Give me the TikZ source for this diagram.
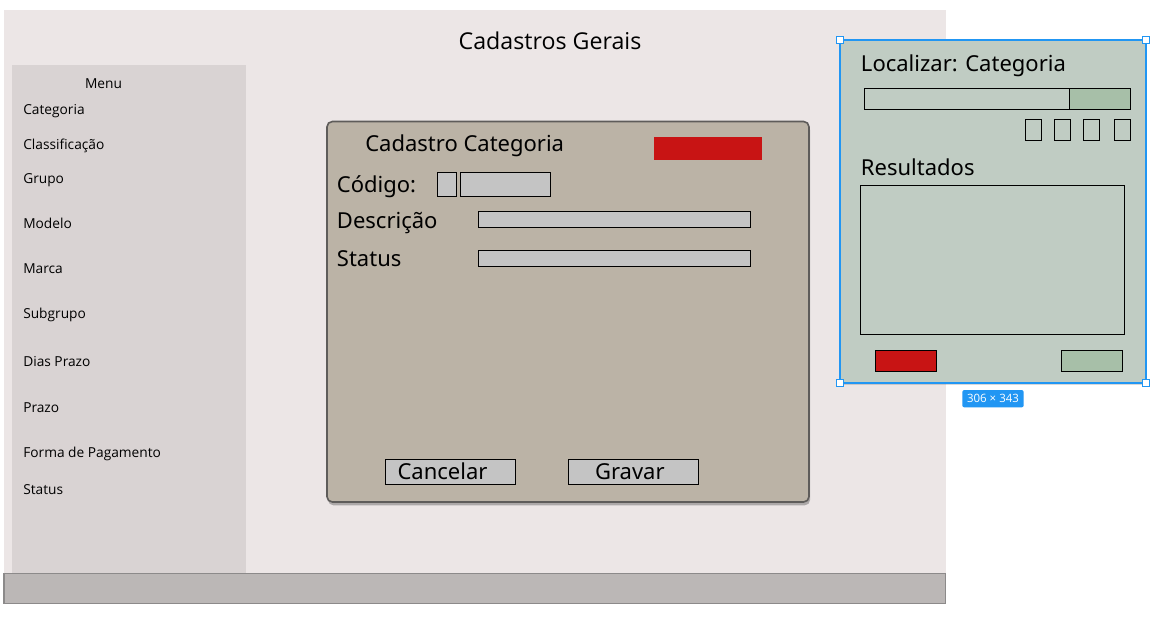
\documentclass[tikz,border=0pt]{standalone}
\usepackage{fontspec}
\setmainfont{Open Sans}
\newfontfamily\dlgfont{Noto Sans}
\usetikzlibrary{shadows}
\definecolor{bgpink}{HTML}{ECE6E6}
\definecolor{menugray}{HTML}{D9D3D3}
\definecolor{barfill}{HTML}{BBB7B6}
\definecolor{barline}{HTML}{8C8A8A}
\definecolor{dlgfill}{HTML}{BBB3A6}
\definecolor{dlgline}{HTML}{5E5C5A}
\definecolor{fieldgray}{HTML}{C4C4C4}
\definecolor{redbtn}{HTML}{C81414}
\definecolor{panelfill}{HTML}{C0CCC3}
\definecolor{greenbtn}{HTML}{A7BFA8}
\definecolor{selblue}{HTML}{2196F3}
\tikzset{
  menuitem/.style={anchor=base west, inner sep=0pt, font=\fontsize{10.3pt}{12pt}\selectfont},
  dlgtext/.style={anchor=base west, inner sep=0pt, font=\dlgfont\fontsize{16.5pt}{19pt}\selectfont},
  field/.style={draw=black, line width=0.8pt, fill=fieldgray},
  pfield/.style={draw=black, line width=0.8pt},
  handle/.style={draw=selblue, fill=white, line width=0.7pt, minimum size=5pt, inner sep=0pt, rectangle}
}
\begin{document}
\begin{tikzpicture}[x=0.75pt, y=-0.75pt]
\useasboundingbox (0,0) rectangle (1171,622);
\fill[white] (0,0) rectangle (1171,622);
% main frame
\fill[bgpink] (4,10) rectangle (946,573);
\draw[barline, line width=1.2pt, fill=barfill] (4,573.5) rectangle (945.5,603.5);
\node[anchor=base, inner sep=0pt, font=\fontsize{17.4pt}{20pt}\selectfont] (title) at (550,49.3) {Cadastros Gerais};
% menu
\fill[menugray] (12,65) rectangle (246,573);
\node[menuitem, anchor=base] (menu) at (103.5,88.5) {Menu};
\node[menuitem] (m1) at (23,114) {Categoria};
\node[menuitem] (m2) at (23,149) {Classificação};
\node[menuitem] (m3) at (23,183) {Grupo};
\node[menuitem] (m4) at (23,228) {Modelo};
\node[menuitem] (m5) at (23,273.3) {Marca};
\node[menuitem] (m6) at (23,318.7) {Subgrupo};
\node[menuitem] (m7) at (23,366.7) {Dias Prazo};
\node[menuitem] (m8) at (23,412) {Prazo};
\node[menuitem] (m9) at (23,457.3) {Forma de Pagamento};
\node[menuitem] (m10) at (23,494) {Status};
% dialog
\draw[dlgline, line width=1.2pt, fill=dlgfill, rounded corners=4pt,
  drop shadow={shadow xshift=0.8pt, shadow yshift=-2.5pt, opacity=0.4, fill=black!70}]
  (327,121.5) rectangle (809,502);
\node[dlgtext] (dtitle) at (365,151.7) {Cadastro Categoria};
\fill[redbtn] (654,137) rectangle (762,159.7);
\node[dlgtext] (lcod) at (336.7,192.7) {Código:};
\draw[field] (437.3,172.3) rectangle (456.7,196.3);
\draw[field] (460.3,172.3) rectangle (550.7,196.3);
\node[dlgtext] (ldesc) at (336.7,228.3) {Descrição};
\draw[field] (478.3,211.3) rectangle (750.7,227.3);
\node[dlgtext] (lstat) at (336.7,266.7) {Status};
\draw[field] (478.3,250.3) rectangle (750.7,266.3);
\draw[field] (385.3,459.3) rectangle (515.7,484.3);
\draw[field] (568.3,459.3) rectangle (698.7,484.3);
\node[dlgtext, anchor=base] (bcanc) at (442.5,479.3) {Cancelar};
\node[dlgtext, anchor=base] (bgrav) at (629.8,479.3) {Gravar};
% right panel
\draw[selblue, line width=1pt, fill=panelfill,
  drop shadow={shadow xshift=0.6pt, shadow yshift=-1.5pt, opacity=0.25, fill=black!60}]
  (840,40) rectangle (1146,383);
\node[dlgtext] (ploc) at (860.7,71.7) {Localizar: Categoria};
\fill[greenbtn] (1069.3,88.3) rectangle (1130.7,109.3);
\draw[pfield] (864.3,88.3) rectangle (1130.7,109.3);
\draw[pfield] (1069.3,88.3) -- (1069.3,109.3);
\draw[pfield] (1025.3,119.3) rectangle (1041.7,140.3);
\draw[pfield] (1054.3,119.3) rectangle (1070.7,140.3);
\draw[pfield] (1083.3,119.3) rectangle (1099.7,140.3);
\draw[pfield] (1114.3,119.3) rectangle (1130.7,140.3);
\node[dlgtext] (pres) at (860.7,175.3) {Resultados};
\draw[pfield] (860.3,185.3) rectangle (1124.7,334.3);
\draw[pfield, fill=redbtn] (875.3,350.3) rectangle (936.7,371.7);
\draw[pfield, fill=greenbtn] (1061.3,350.3) rectangle (1122.7,371.7);
\node[handle] (h1) at (840,40) {};
\node[handle] (h2) at (1146,40) {};
\node[handle] (h3) at (840,383) {};
\node[handle] (h4) at (1146,383) {};
\node[fill=selblue, rounded corners=1.5pt, text=white, inner sep=0pt, minimum width=46pt, minimum height=13pt,
  font=\fontsize{8.6pt}{9pt}\selectfont] (size) at (993,398.7) {306 × 343};
\end{tikzpicture}
\end{document}
